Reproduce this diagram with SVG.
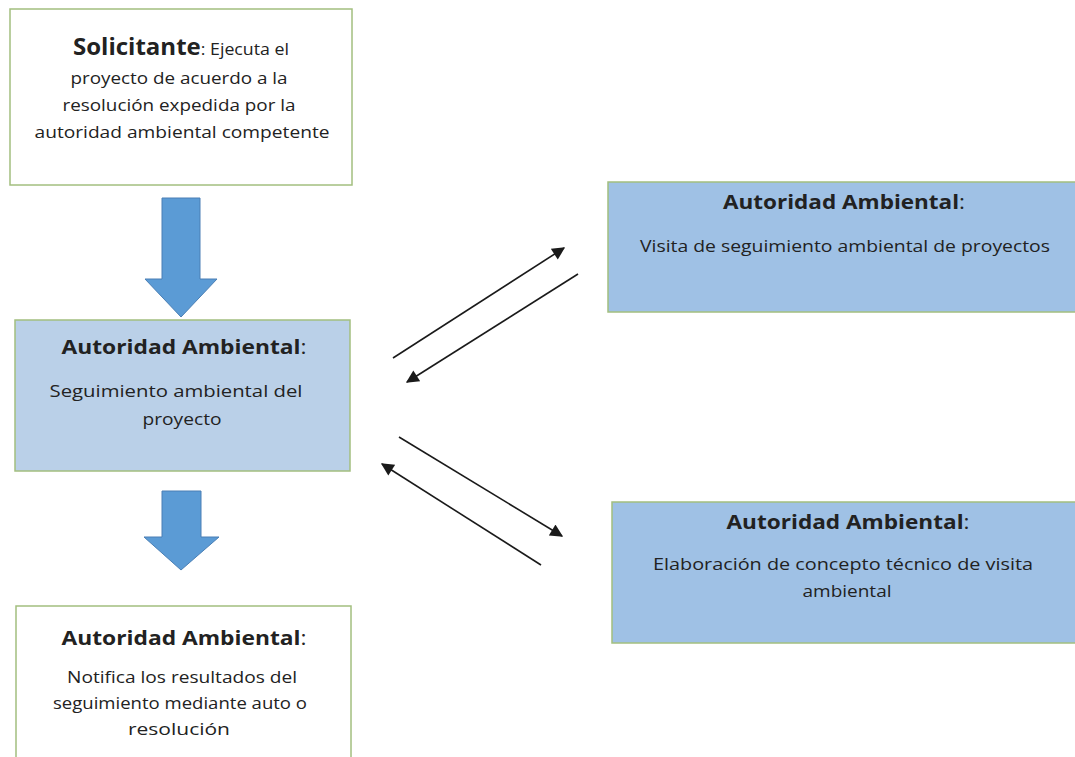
<svg xmlns="http://www.w3.org/2000/svg" width="1075" height="757" viewBox="0 0 1075 757">
<style>
.box{stroke:#a3bf7f;stroke-width:1.5}
.w{fill:#ffffff}
.lb{fill:#bad0e8}
.db{fill:#9fc1e5}
text{font-family:"Open Sans","Liberation Sans",sans-serif;fill:#222222;text-anchor:middle}
.t{font-weight:bold;font-size:20px}
.b{font-size:17px}
.n{font-weight:normal}
.blk{fill:#5b9bd5;stroke:#4a7fb5;stroke-width:1}
.ln{stroke:#1a1a1a;stroke-width:1.6;fill:none;marker-end:url(#ah)}
</style>
<defs>
<marker id="ah" viewBox="0 0 10 10" refX="9" refY="5" markerWidth="9" markerHeight="8" markerUnits="strokeWidth" orient="auto">
<path d="M0,0 L10,5 L0,10 Z" fill="#1a1a1a"/>
</marker>
</defs>
<rect width="1075" height="757" fill="#ffffff"/>

<g id="solicitante">
<rect class="box w" x="10" y="9" width="342" height="176"/>
<text x="181" y="55" class="b" textLength="216" lengthAdjust="spacingAndGlyphs"><tspan style="font-weight:bold;font-size:23px">Solicitante</tspan>: Ejecuta el</text>
<text x="179" y="84" class="b" textLength="217" lengthAdjust="spacingAndGlyphs">proyecto de acuerdo a la</text>
<text x="179" y="111" class="b" textLength="233" lengthAdjust="spacingAndGlyphs">resolución expedida por la</text>
<text x="182" y="138" class="b" textLength="295" lengthAdjust="spacingAndGlyphs">autoridad ambiental competente</text>
</g>

<g id="seguimiento">
<rect class="box lb" x="15" y="320" width="335" height="151"/>
<text x="184" y="354" class="t" textLength="245" lengthAdjust="spacingAndGlyphs">Autoridad Ambiental<tspan class="n">:</tspan></text>
<text x="176" y="397" class="b" textLength="253" lengthAdjust="spacingAndGlyphs">Seguimiento ambiental del</text>
<text x="182" y="425" class="b" textLength="79" lengthAdjust="spacingAndGlyphs">proyecto</text>
</g>

<g id="notifica">
<rect class="box w" x="16" y="606" width="335" height="170"/>
<text x="184" y="645" class="t" textLength="245" lengthAdjust="spacingAndGlyphs">Autoridad Ambiental<tspan class="n">:</tspan></text>
<text x="182" y="683" class="b" textLength="230" lengthAdjust="spacingAndGlyphs">Notifica los resultados del</text>
<text x="180" y="709" class="b" textLength="254" lengthAdjust="spacingAndGlyphs">seguimiento mediante auto o</text>
<text x="179" y="735" class="b" textLength="102" lengthAdjust="spacingAndGlyphs">resolución</text>
</g>

<g id="visita">
<rect class="box db" x="608" y="182" width="475" height="130"/>
<text x="844" y="209" class="t" textLength="242" lengthAdjust="spacingAndGlyphs">Autoridad Ambiental<tspan class="n">:</tspan></text>
<text x="845" y="252" class="b" textLength="410" lengthAdjust="spacingAndGlyphs">Visita de seguimiento ambiental de proyectos</text>
</g>

<g id="elaboracion">
<rect class="box db" x="612" y="502" width="475" height="141"/>
<text x="848" y="529" class="t" textLength="243" lengthAdjust="spacingAndGlyphs">Autoridad Ambiental<tspan class="n">:</tspan></text>
<text x="843" y="570" class="b" textLength="380" lengthAdjust="spacingAndGlyphs">Elaboración de concepto técnico de visita</text>
<text x="847" y="597" class="b" textLength="89" lengthAdjust="spacingAndGlyphs">ambiental</text>
</g>

<g id="connectors">
<path class="blk" d="M162,198 L200,198 L200,279 L217,279 L181,317 L145,279 L162,279 Z"/>
<path class="blk" d="M162,491 L201,491 L201,537 L219,537 L181,570 L144,537 L162,537 Z"/>
<line class="ln" x1="393" y1="358" x2="564" y2="248"/>
<line class="ln" x1="578" y1="274" x2="407" y2="382"/>
<line class="ln" x1="399" y1="437" x2="562" y2="536"/>
<line class="ln" x1="541" y1="565" x2="382" y2="464"/>
</g>
</svg>
